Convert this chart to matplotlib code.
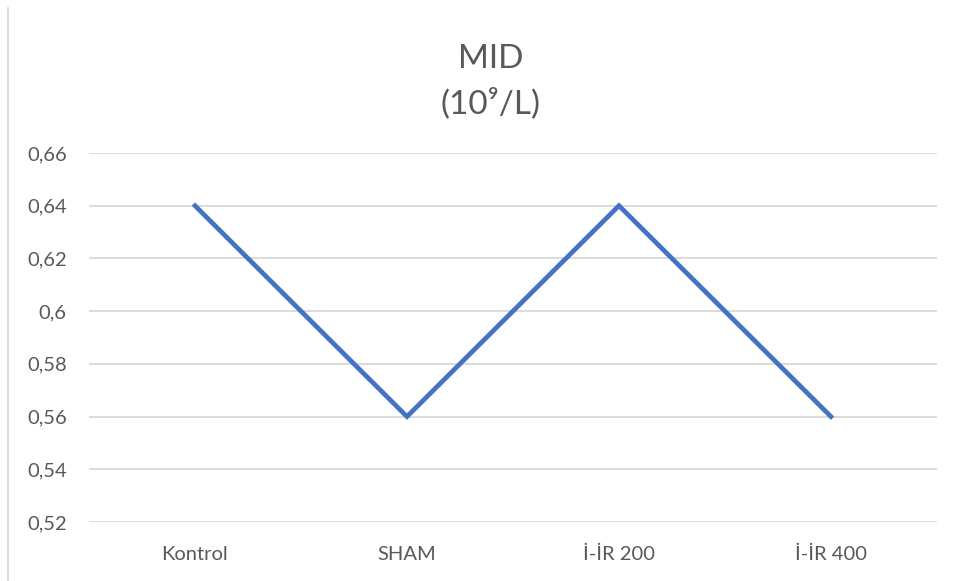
import matplotlib
matplotlib.use("Agg")
import matplotlib.pyplot as plt
from matplotlib.lines import Line2D
from matplotlib.ticker import FuncFormatter, MultipleLocator

# MID values per group
groups = ["Kontrol", "SHAM", "İ-İR 200", "İ-İR 400"]
mid = [0.64, 0.56, 0.64, 0.56]

plt.rcParams['font.family'] = ['Lato', 'DejaVu Sans']
text_grey = "#595959"

fig = plt.figure(figsize=(9.58, 5.81), dpi=100)
ax = fig.add_axes([0.0929, 0.1015, 0.978 - 0.0929, 0.7367 - 0.1015])

ax.plot(range(len(groups)), mid, color="#4472C4", linewidth=3.4, solid_joinstyle="miter")

ax.set_xlim(-0.5, len(groups) - 0.5)
ax.set_ylim(0.52, 0.66)
ax.yaxis.set_major_locator(MultipleLocator(0.02))
ax.yaxis.set_major_formatter(FuncFormatter(lambda v, p: f"{v:.2f}".rstrip("0").replace(".", ",")))
ax.set_xticks(range(len(groups)))
ax.set_xticklabels(groups)

ax.grid(axis="y", color="#D9D9D9", linewidth=1.3)
ax.set_axisbelow(True)
for s in ax.spines.values():
    s.set_visible(False)
ax.tick_params(length=0, labelsize=14.5, colors=text_grey)
ax.tick_params(axis="y", pad=16)
ax.tick_params(axis="x", pad=17)

fig.text(0.5125, 0.859, "MID\n(10⁹/L)", ha="center", va="center",
         fontsize=24, color=text_grey, linespacing=1.52)

# chart frame edge on the left
fig.add_artist(Line2D([7.5 / 958, 7.5 / 958], [0, 1 - 8 / 581],
                      transform=fig.transFigure, color="#D9D9D9", linewidth=1.3))

fig.savefig("out.png", dpi=100, facecolor="white")
